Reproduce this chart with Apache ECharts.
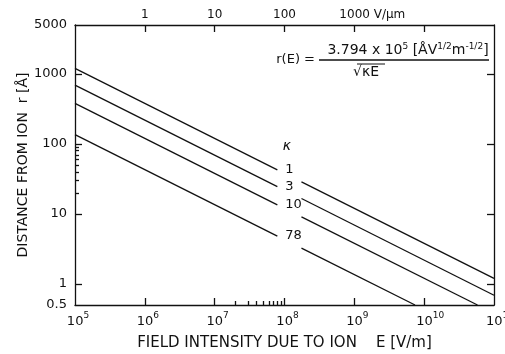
<!DOCTYPE html>
<html>
<head>
<meta charset="utf-8">
<script src="https://cdn.jsdelivr.net/npm/echarts@6/dist/echarts.min.js"></script>
<style>
html,body{margin:0;padding:0;background:#fff;}
#chart{width:505px;height:354px;}
</style>
</head>
<body>
<div id="chart"></div>
<script>
// ---- data ----
const kappaLabels = ['1', '3', '10', '78'];
// left segments (before the label gap): [E (V/m), r (Å)]
const leftSegments = [
  [[1e5, 1200], [7.9e7, 42.6]],
  [[1e5, 693], [7.9e7, 24.6]],
  [[1e5, 380], [7.9e7, 13.5]],
  [[1e5, 136], [7.9e7, 4.83]]
];
// right segments (after the label gap)
const rightSegments = [
  [[1.75e8, 28.7], [1e11, 1.2]],
  [[1.75e8, 16.6], [1e11, 0.69]],
  [[1.75e8, 9.07], [5.8e10, 0.5]],
  [[1.75e8, 3.25], [7.4e9, 0.5]]
];
const xTickValues = [1e5, 1e6, 1e7, 1e8, 1e9, 1e10, 1e11];
const xTickExp = ['5', '6', '7', '8', '9', '10', '11'];
const xMajorTicks = [1e6, 1e7, 1e8, 1e9, 1e10];
const xMinorTicks = [2e7, 3e7, 4e7, 5e7, 6e7, 7e7, 8e7, 9e7];
const yTickValues = [0.5, 1, 10, 100, 1000, 5000];
const yTickLabels = ['0.5', '1', '10', '100', '1000', '5000'];
const yMajorTicks = [1, 10, 100, 1000];
const yMinorTicks = [20, 30, 40, 50, 60, 70, 80, 90];
const topTickValues = [1e6, 1e7, 1e8, 1e9, 1e10];
const topLabelValues = [1e6, 1e7, 1e8, 1e9];
const topLabels = ['1', '10', '100', '1000'];
const topUnit = 'V/μm';

// ---- helpers ----
function nearestIndex(arr, v) {
  let best = 0, bd = Infinity;
  for (let i = 0; i < arr.length; i++) {
    const d = Math.abs(Math.log10(arr[i]) - Math.log10(v));
    if (d < bd) { bd = d; best = i; }
  }
  return best;
}
const FONT = 'DejaVu Sans';
const BLACK = '#111';
const lineStyle = { color: BLACK, width: 1.3 };

const chart = echarts.init(document.getElementById('chart'), null, { renderer: 'canvas' });

const series = [];
for (let i = 0; i < kappaLabels.length; i++) {
  series.push({
    type: 'line', xAxisIndex: 0, yAxisIndex: 0, data: leftSegments[i],
    showSymbol: false, symbol: 'none', lineStyle: lineStyle, silent: true, animation: false,
    endLabel: { show: true, formatter: kappaLabels[i], color: BLACK, fontFamily: FONT, fontSize: 13, distance: 8 }
  });
  series.push({
    type: 'line', xAxisIndex: 0, yAxisIndex: 0, data: rightSegments[i],
    showSymbol: false, symbol: 'none', lineStyle: lineStyle, silent: true, animation: false
  });
}

const baseLog = { type: 'log', logBase: 10, splitLine: { show: false } };

const option = {
  backgroundColor: '#fff',
  animation: false,
  grid: { left: 75, right: 11, top: 25, bottom: 49, containLabel: false, outerBoundsMode: 'none' },
  xAxis: [
    Object.assign({}, baseLog, {
      position: 'bottom', min: 1e5, max: 1e11,
      axisLine: { show: true, lineStyle: lineStyle },
      axisTick: { show: true, inside: true, length: 7, customValues: xMajorTicks, lineStyle: lineStyle },
      axisLabel: {
        show: true, customValues: xTickValues, margin: 2, color: BLACK, fontFamily: FONT,
        formatter: function (v) {
          const e = xTickExp[nearestIndex(xTickValues, v)];
          return e.length > 1 ? '{b2|10}{s|' + e + '}' : '{b1|10}{s|' + e + '}';
        },
        rich: {
          b1: { fontSize: 13, fontFamily: FONT, color: BLACK, padding: [8, 0, 0, 6] },
          b2: { fontSize: 13, fontFamily: FONT, color: BLACK, padding: [8, 0, 0, 12] },
          s: { fontSize: 9, fontFamily: FONT, color: BLACK, padding: [0, 0, 4, 0] }
        }
      },
      name: 'FIELD INTENSITY DUE TO ION    E [V/m]', nameLocation: 'middle', nameGap: 31,
      nameMoveOverlap: false,
      nameTextStyle: { fontSize: 15, fontFamily: FONT, color: BLACK }
    }),
    Object.assign({}, baseLog, {
      position: 'top', min: 1e5, max: 1e11,
      axisLine: { show: true, lineStyle: lineStyle },
      axisTick: { show: true, inside: true, length: 7, customValues: topTickValues, lineStyle: lineStyle },
      axisLabel: {
        show: true, customValues: topLabelValues, margin: 4, color: BLACK, fontFamily: FONT, fontSize: 12,
        formatter: function (v) {
          const i = nearestIndex(topLabelValues, v);
          if (i === topLabels.length - 1) return '{n|' + topLabels[i] + '}{u| ' + topUnit + '}';
          return topLabels[i];
        },
        rich: {
          n: { fontSize: 12, fontFamily: FONT, color: BLACK, padding: [0, 0, 0, 36] },
          u: { fontSize: 12, fontFamily: FONT, color: BLACK }
        }
      }
    }),
    Object.assign({}, baseLog, {
      position: 'bottom', min: 1e5, max: 1e11,
      axisLine: { show: false },
      axisTick: { show: true, inside: true, length: 4, customValues: xMinorTicks, lineStyle: lineStyle },
      axisLabel: { show: false }
    })
  ],
  yAxis: [
    Object.assign({}, baseLog, {
      position: 'left', min: 0.5, max: 5000,
      axisLine: { show: true, lineStyle: lineStyle },
      axisTick: { show: true, inside: true, length: 7, customValues: yMajorTicks, lineStyle: lineStyle },
      axisLabel: {
        show: true, customValues: yTickValues, margin: 8, color: BLACK, fontFamily: FONT, fontSize: 13,
        formatter: function (v) { return yTickLabels[nearestIndex(yTickValues, v)]; }
      },
      name: 'DISTANCE FROM ION  r [Å]', nameLocation: 'middle', nameGap: 45,
      nameMoveOverlap: false,
      nameTextStyle: { fontSize: 14, fontFamily: FONT, color: BLACK }
    }),
    Object.assign({}, baseLog, {
      position: 'right', min: 0.5, max: 5000,
      axisLine: { show: true, lineStyle: lineStyle },
      axisTick: { show: true, inside: true, length: 7, customValues: yMajorTicks, lineStyle: lineStyle },
      axisLabel: { show: false }
    }),
    Object.assign({}, baseLog, {
      position: 'left', min: 0.5, max: 5000,
      axisLine: { show: false },
      axisTick: { show: true, inside: true, length: 4, customValues: yMinorTicks, lineStyle: lineStyle },
      axisLabel: { show: false }
    })
  ],
  series: series,
  graphic: [
    { type: 'text', x: 315, y: 60, style: { text: 'r(E) =', font: '13px "DejaVu Sans"', fill: BLACK, align: 'right', verticalAlign: 'middle' } },
    { type: 'line', shape: { x1: 319, y1: 60, x2: 489, y2: 60 }, style: { stroke: BLACK, lineWidth: 1.3 } },
    {
      type: 'text', x: 408, y: 50,
      style: {
        text: '3.794 x 10{s|5} [ÅV{s|1/2}m{s|-1/2}]',
        font: '14px "DejaVu Sans"', fill: BLACK, align: 'center', verticalAlign: 'middle',
        rich: { s: { fontSize: 9, fontFamily: FONT, fill: BLACK, padding: [0, 0, 6, 0] } }
      }
    },
    { type: 'text', x: 366, y: 72, style: { text: '√κE', font: '14px "DejaVu Sans"', fill: BLACK, align: 'center', verticalAlign: 'middle' } },
    { type: 'line', shape: { x1: 357, y1: 64, x2: 385, y2: 64 }, style: { stroke: BLACK, lineWidth: 1 } },
    { type: 'text', x: 287, y: 146, style: { text: 'κ', font: 'italic 14px "DejaVu Sans"', fill: BLACK, align: 'center', verticalAlign: 'middle' } }
  ]
};
chart.setOption(option);
</script>
</body>
</html>
